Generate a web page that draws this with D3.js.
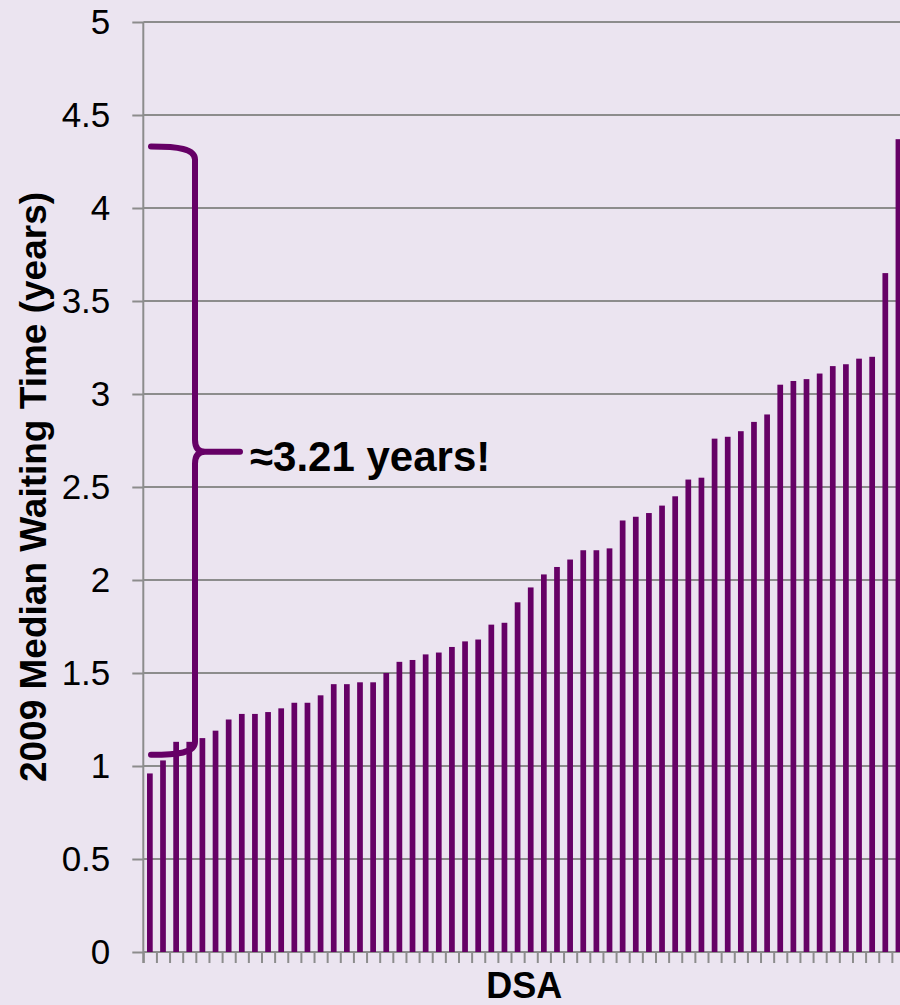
<!DOCTYPE html>
<html>
<head>
<meta charset="utf-8">
<script src="https://cdn.jsdelivr.net/npm/d3@7"></script>
<style>
  html, body { margin: 0; padding: 0; background: #ebe4f0; }
  svg { display: block; }
</style>
</head>
<body>
<svg id="chart" width="900" height="1005"></svg>
<script>
// 2009 median waiting time per donation service area, sorted ascending
const dsaIds = d3.range(1, 59).map(String);
const waitYears = [
  0.96, 1.03, 1.13, 1.13, 1.15, 1.19, 1.25, 1.28, 1.28, 1.29,
  1.31, 1.34, 1.34, 1.38, 1.44, 1.44, 1.45, 1.45, 1.50, 1.56,
  1.57, 1.60, 1.61, 1.64, 1.67, 1.68, 1.76, 1.77, 1.88, 1.96,
  2.03, 2.07, 2.11, 2.16, 2.16, 2.17, 2.32, 2.34, 2.36, 2.40,
  2.45, 2.54, 2.55, 2.76, 2.77, 2.80, 2.85, 2.89, 3.05, 3.07,
  3.08, 3.11, 3.15, 3.16, 3.19, 3.20, 3.65, 4.37
];
const yTicks = [0, 0.5, 1, 1.5, 2, 2.5, 3, 3.5, 4, 4.5, 5];
const yTickLabels = ["0", "0.5", "1", "1.5", "2", "2.5", "3", "3.5", "4", "4.5", "5"];

// brace annotation: spans the range of waiting times
const braceTop = 4.33, braceMid = 2.69, braceBottom = 1.06;
const braceLabel = "\u22483.21 years!";

const barColor = "#660066";
const gridColor = "#8c8c8c";
const font = "'Liberation Sans', Arial, Helvetica, sans-serif";

const svg = d3.select("#chart");
svg.append("rect").attr("width", 900).attr("height", 1005).attr("fill", "#ebe4f0");

const x0 = 143.3, x1 = 905, yTop = 22, yBot = 952;

const x = d3.scaleBand()
  .domain(dsaIds)
  .range([x0, x1])
  .paddingInner(0.565)
  .paddingOuter(0.2825);

const y = d3.scaleLinear().domain([0, 5]).range([yBot, yTop]);

// left axis ticks/labels
const yAxis = d3.axisLeft(y)
  .tickValues(yTicks)
  .tickFormat((d, i) => yTickLabels[i])
  .tickSize(11)
  .tickPadding(22);

const gy = svg.append("g").attr("transform", `translate(${x0},0)`).call(yAxis);
gy.select(".domain").remove();
gy.selectAll(".tick line").attr("stroke", gridColor).attr("stroke-width", 2);
gy.selectAll(".tick text")
  .attr("fill", "#000")
  .style("font-family", font)
  .style("font-size", "35px");

// horizontal gridlines
svg.append("g").selectAll("line.grid")
  .data(yTicks)
  .join("line")
  .attr("x1", x0).attr("x2", 900)
  .attr("y1", d => y(d)).attr("y2", d => y(d))
  .attr("stroke", gridColor).attr("stroke-width", 2);

// vertical axis line
svg.append("line")
  .attr("x1", x0).attr("x2", x0)
  .attr("y1", y(5)).attr("y2", yBot + 11)
  .attr("stroke", gridColor).attr("stroke-width", 2);

// category boundary ticks along the bottom
const xb = d3.scaleLinear().domain([0, dsaIds.length]).range([x0, x1]);
const xAxis = d3.axisBottom(xb)
  .tickValues(d3.range(0, dsaIds.length + 1))
  .tickFormat("")
  .tickSize(11);
const gx = svg.append("g").attr("transform", `translate(0,${yBot})`).call(xAxis);
gx.select(".domain").remove();
gx.selectAll(".tick line").attr("stroke", gridColor).attr("stroke-width", 2);

// bars
svg.append("g").selectAll("rect")
  .data(waitYears)
  .join("rect")
  .attr("x", (d, i) => x(dsaIds[i]))
  .attr("width", x.bandwidth())
  .attr("y", d => y(d))
  .attr("height", d => y(0) - y(d))
  .attr("fill", barColor);

// curly brace
const bx = 195, bl = 151, tipX = 240;
const t = y(braceTop), m = y(braceMid), b = y(braceBottom);
const p = d3.path();
p.moveTo(bl, t);
p.bezierCurveTo(178, t, bx, t + 2, bx, t + 13);
p.lineTo(bx, m - 12);
p.quadraticCurveTo(bx, m, bx + 10, m);
p.lineTo(tipX, m);
p.moveTo(bx + 10, m);
p.quadraticCurveTo(bx, m, bx, m + 12);
p.lineTo(bx, b - 13);
p.bezierCurveTo(bx, b - 2, 178, b, bl, b);
svg.append("path")
  .attr("d", p.toString())
  .attr("fill", "none")
  .attr("stroke", barColor)
  .attr("stroke-width", 6)
  .attr("stroke-linecap", "round")
  .attr("stroke-linejoin", "round");

svg.append("text")
  .attr("x", 250).attr("y", 471)
  .style("font-family", font)
  .style("font-size", "42px")
  .style("font-weight", "bold")
  .attr("fill", "#000")
  .text(braceLabel);

// axis titles
svg.append("text")
  .attr("transform", `translate(46,${(yTop + yBot) / 2}) rotate(-90)`)
  .attr("text-anchor", "middle")
  .style("font-family", font)
  .style("font-size", "37px")
  .style("font-weight", "bold")
  .attr("fill", "#000")
  .text("2009 Median Waiting Time (years)");

svg.append("text")
  .attr("x", (x0 + x1) / 2).attr("y", 998)
  .attr("text-anchor", "middle")
  .style("font-family", font)
  .style("font-size", "36px")
  .style("font-weight", "bold")
  .attr("fill", "#000")
  .text("DSA");
</script>
</body>
</html>
